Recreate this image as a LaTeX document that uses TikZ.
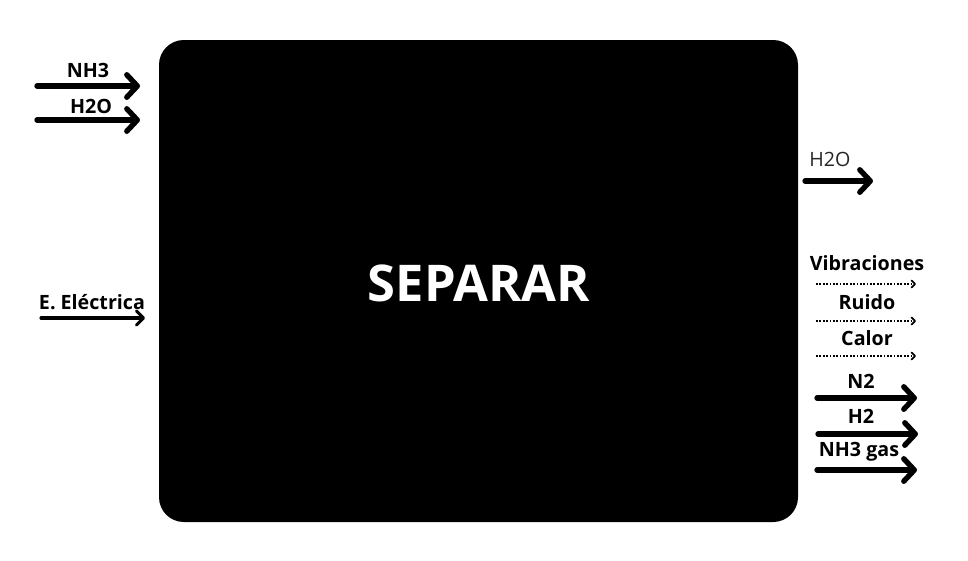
\documentclass[tikz,border=0pt]{standalone}
\usepackage{fontspec}
\setmainfont{Open Sans}
\usetikzlibrary{arrows.meta}

\begin{document}
\begin{tikzpicture}[
    x=0.025cm, y=-0.025cm,
    block/.style={draw=none, fill=black, rounded corners=0.62cm},
    lbl/.style={font=\fontsize{14}{16}\selectfont\bfseries, text=black, inner sep=1pt},
    lblreg/.style={font=\fontsize{14}{16}\selectfont, text=black!85, inner sep=1pt},
    flow/.style={line width=3.8pt, line cap=round, -{Straight Barb[length=7.5pt, width=16pt, round]}},
    power/.style={line width=2.2pt, line cap=round, -{Straight Barb[length=5pt, width=10pt, round]}},
    loss/.style={line width=1.3pt, dash pattern=on 1.3pt off 1.1pt, -{Straight Barb[length=2.5pt, width=5pt, round]}}
]
\useasboundingbox (0,0) rectangle (968,560);

% Function block
\fill[block] (159,40) rectangle (798,522);
\node[font=\fontsize{36}{40}\selectfont\bfseries, text=white] (separar) at (479,283) {SEPARAR};

% Inputs
\coordinate (nh3a) at (37,86);   \coordinate (nh3b) at (140,86);
\coordinate (h2oa) at (37,120);  \coordinate (h2ob) at (140,120);
\coordinate (eea)  at (41,318);  \coordinate (eeb)  at (145,318);
\node[lbl] (lnh3) at (88,70) {NH3};
\node[lbl] (lh2o) at (91,106) {H2O};
\node[lbl] (lee)  at (92,302) {E. Eléctrica};
\draw[flow] (nh3a) -- (nh3b);
\draw[flow] (h2oa) -- (h2ob);
\draw[power] (eea) -- (eeb);

% Outputs
\coordinate (outh2oa) at (805,181); \coordinate (outh2ob) at (873,181);
\node[lblreg] (louth2o) at (830,159) {H2O};
\draw[flow] (outh2oa) -- (outh2ob);

\coordinate (viba) at (816,284); \coordinate (vibb) at (916,284);
\coordinate (ruia) at (816,321); \coordinate (ruib) at (916,321);
\coordinate (cala) at (816,356); \coordinate (calb) at (916,356);
\node[lbl] (lvib) at (867,263) {Vibraciones};
\node[lbl] (lrui) at (867,302) {Ruido};
\node[lbl] (lcal) at (867,338) {Calor};
\draw[loss] (viba) -- (vibb);
\draw[loss] (ruia) -- (ruib);
\draw[loss] (cala) -- (calb);

\coordinate (n2a)  at (817,398); \coordinate (n2b)  at (917,398);
\coordinate (h2a)  at (818,434); \coordinate (h2b)  at (918,434);
\coordinate (gasa) at (817,470); \coordinate (gasb) at (917,470);
\node[lbl] (ln2)  at (861,381) {N2};
\node[lbl] (lh2)  at (861,416) {H2};
\node[lbl] (lgas) at (859,452) {NH3 gas};
\draw[flow] (n2a) -- (n2b);
\draw[flow] (h2a) -- (h2b);
\draw[flow] (gasa) -- (gasb);

\end{tikzpicture}
\end{document}
